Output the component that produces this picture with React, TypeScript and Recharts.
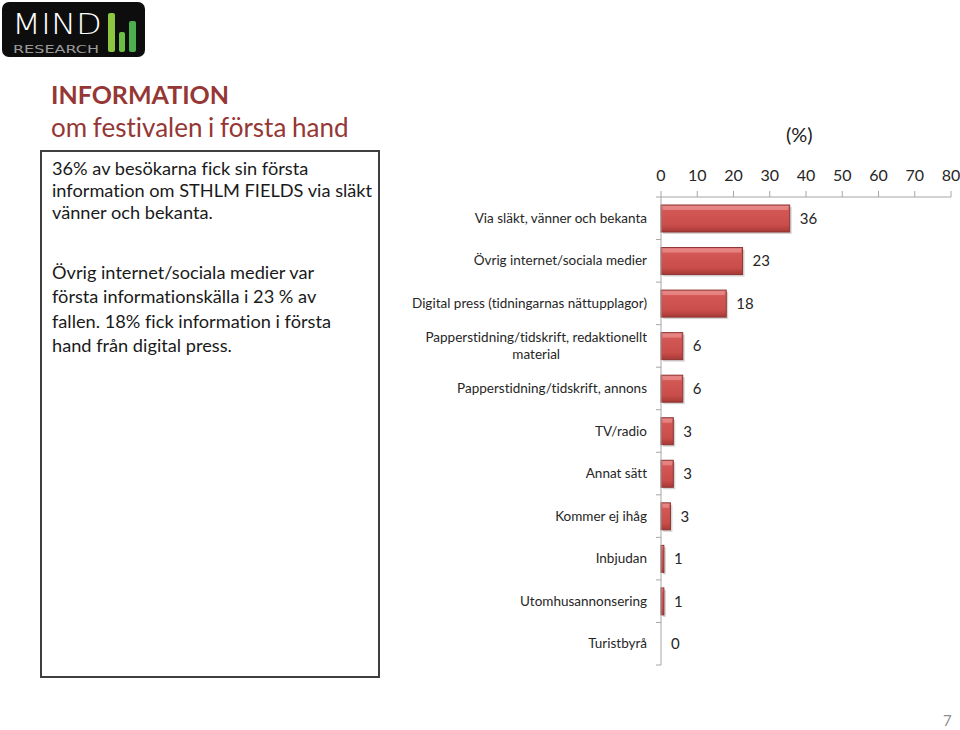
import { BarChart, Bar, XAxis, YAxis, LabelList } from 'recharts';

const categories = [
  'Via släkt, vänner och bekanta',
  'Övrig internet/sociala medier',
  'Digital press (tidningarnas nättupplagor)',
  'Papperstidning/tidskrift, redaktionellt material',
  'Papperstidning/tidskrift, annons',
  'TV/radio',
  'Annat sätt',
  'Kommer ej ihåg',
  'Inbjudan',
  'Utomhusannonsering',
  'Turistbyrå'
];
const shares = [35.5, 22.5, 18, 6, 6, 3.4, 3.4, 2.6, 0.8, 0.8, 0];
const xTicks = [0, 10, 20, 30, 40, 50, 60, 70, 80];

const data = categories.map((label, i) => ({ label, value: shares[i] }));

const FONT = 'Lato, "Open Sans", sans-serif';
const TITLE_RED = '#953735';
const AXIS_GRAY = '#a6a6a6';
const PLOT_HEIGHT = 468;
const BAND = PLOT_HEIGHT / categories.length;

const wrapLabel = (text: string) => {
  if (text.length <= 44) return [text];
  const cut = text.lastIndexOf(' ', 40);
  return [text.slice(0, cut), text.slice(cut + 1)];
};

const CategoryTick = (props: any) => {
  const { x, y, payload, index } = props;
  const lines = wrapLabel(payload.value);
  const axisX = x + 14;
  const isLast = index === categories.length - 1;
  return (
    <g>
      <line x1={axisX - 5} x2={axisX} y1={y - BAND / 2} y2={y - BAND / 2} stroke={AXIS_GRAY} />
      {isLast && <line x1={axisX - 5} x2={axisX} y1={y + BAND / 2} y2={y + BAND / 2} stroke={AXIS_GRAY} />}
      {lines.length === 1 ? (
        <text
          x={x}
          y={y + 4.5}
          textAnchor="end"
          fill="#262626"
          fontSize={13.5}
          fontFamily={FONT}
          style={{ fontVariantLigatures: 'none' }}
        >
          {lines[0]}
        </text>
      ) : (
        <foreignObject x={x - 260} y={y - 20} width={260} height={40}>
          <div
            style={{
              height: 40,
              display: 'flex',
              alignItems: 'center',
              justifyContent: 'flex-end',
              fontFamily: FONT,
              fontSize: 13.5,
              lineHeight: '17px',
              color: '#262626',
              fontVariantLigatures: 'none'
            }}
          >
            <div style={{ textAlign: 'center', whiteSpace: 'nowrap' }}>
              {lines.map((ln, i) => (
                <div key={i}>{ln}</div>
              ))}
            </div>
          </div>
        </foreignObject>
      )}
    </g>
  );
};

const BevelBar = (props: any) => {
  const { x, y, width, height } = props;
  if (!width || width <= 0) return null;
  return (
    <g>
      <rect x={x + 2} y={y + 2} width={width} height={height} fill="#b9b9b9" opacity={0.6} />
      <rect x={x} y={y} width={width} height={height} fill="url(#barGrad)" stroke="#8c3331" strokeWidth={1} />
      {width > 4 && (
        <rect x={x + 1.5} y={y + 1} width={width - 3} height={4} fill="#e9908e" opacity={0.7} />
      )}
    </g>
  );
};

const Logo = () => (
  <div
    style={{
      position: 'absolute',
      left: 2,
      top: 2,
      width: 143,
      height: 55,
      background: '#0d0d0d',
      borderRadius: 7
    }}
  >
    <svg width={143} height={55}>
      <text x={10} y={32} fill="#ffffff" fontSize={29} fontFamily='"DejaVu Sans", sans-serif' fontWeight={200} textLength={90} lengthAdjust="spacingAndGlyphs">
        MIND
      </text>
      <text x={11} y={51} fill="#9a9a9a" fontSize={11} fontFamily='"DejaVu Sans", sans-serif' textLength={86} lengthAdjust="spacingAndGlyphs">
        RESEARCH
      </text>
      <rect x={106} y={11} width={7} height={39} rx={2} fill="#8dc63f" />
      <rect x={117} y={30} width={6} height={20} rx={2} fill="#6cbf45" />
      <rect x={127} y={19} width={7} height={31} rx={2} fill="#4cae4c" />
    </svg>
  </div>
);

export default function App() {
  return (
    <div
      style={{
        position: 'absolute',
        left: 0,
        top: 0,
        width: 960,
        height: 730,
        background: '#ffffff',
        fontFamily: FONT,
        fontVariantLigatures: 'none',
        overflow: 'hidden'
      }}
    >
      <Logo />
      <div style={{ position: 'absolute', left: 51, top: 78, color: TITLE_RED, fontSize: 25, fontWeight: 700, lineHeight: '32px' }}>
        INFORMATION
      </div>
      <div style={{ position: 'absolute', left: 51, top: 111, color: TITLE_RED, fontSize: 26, lineHeight: '32px', wordSpacing: -1 }}>
        om festivalen i första hand
      </div>
      <div
        style={{
          position: 'absolute',
          left: 40,
          top: 150,
          width: 336,
          height: 524,
          border: '2px solid #3f3f3f',
          boxSizing: 'content-box'
        }}
      >
        <div style={{ padding: '5px 10px 0 10px', fontSize: 18.2, color: '#1a1a1a', whiteSpace: 'nowrap' }}>
          <div style={{ lineHeight: '22px' }}>
            36% av besökarna fick sin första
            <br />
            information om STHLM FIELDS via släkt
            <br />
            vänner och bekanta.
          </div>
          <div style={{ marginTop: 37, lineHeight: '24.3px' }}>
            Övrig internet/sociala medier var
            <br />
            första informationskälla i 23 % av
            <br />
            fallen. 18% fick information i första
            <br />
            hand från digital press.
          </div>
        </div>
      </div>
      <div style={{ position: 'absolute', left: 786, top: 122, fontSize: 20, color: '#1a1a1a' }}>(%)</div>
      <div style={{ position: 'absolute', left: 400, top: 150 }}>
        <BarChart
          width={560}
          height={530}
          data={data}
          layout="vertical"
          margin={{ top: 0, right: 9, bottom: 15, left: 0 }}
        >
          <defs>
            <linearGradient id="barGrad" x1="0" y1="0" x2="0" y2="1">
              <stop offset="0%" stopColor="#e27c7a" />
              <stop offset="20%" stopColor="#d35855" />
              <stop offset="75%" stopColor="#c94d4a" />
              <stop offset="100%" stopColor="#a63936" />
            </linearGradient>
          </defs>
          <XAxis
            type="number"
            orientation="top"
            domain={[0, 80]}
            ticks={xTicks}
            interval={0}
            height={47}
            tickSize={6}
            tickMargin={10}
            axisLine={{ stroke: AXIS_GRAY }}
            tickLine={{ stroke: AXIS_GRAY }}
            tick={{ fill: '#262626', fontSize: 16, fontFamily: FONT }}
          />
          <YAxis
            type="category"
            dataKey="label"
            width={261}
            interval={0}
            tickSize={0}
            tickMargin={14}
            tickLine={false}
            axisLine={{ stroke: AXIS_GRAY }}
            tick={<CategoryTick />}
          />
          <Bar dataKey="value" barSize={27} isAnimationActive={false} shape={<BevelBar />}>
            <LabelList
              dataKey="value"
              position="right"
              offset={10}
              formatter={(v: any) => Math.round(Number(v))}
              style={{ fill: '#262626', fontSize: 15, fontFamily: FONT }}
            />
          </Bar>
        </BarChart>
      </div>
      <div style={{ position: 'absolute', left: 943, top: 711, fontSize: 15, color: '#8c8c8c' }}>7</div>
    </div>
  );
}
